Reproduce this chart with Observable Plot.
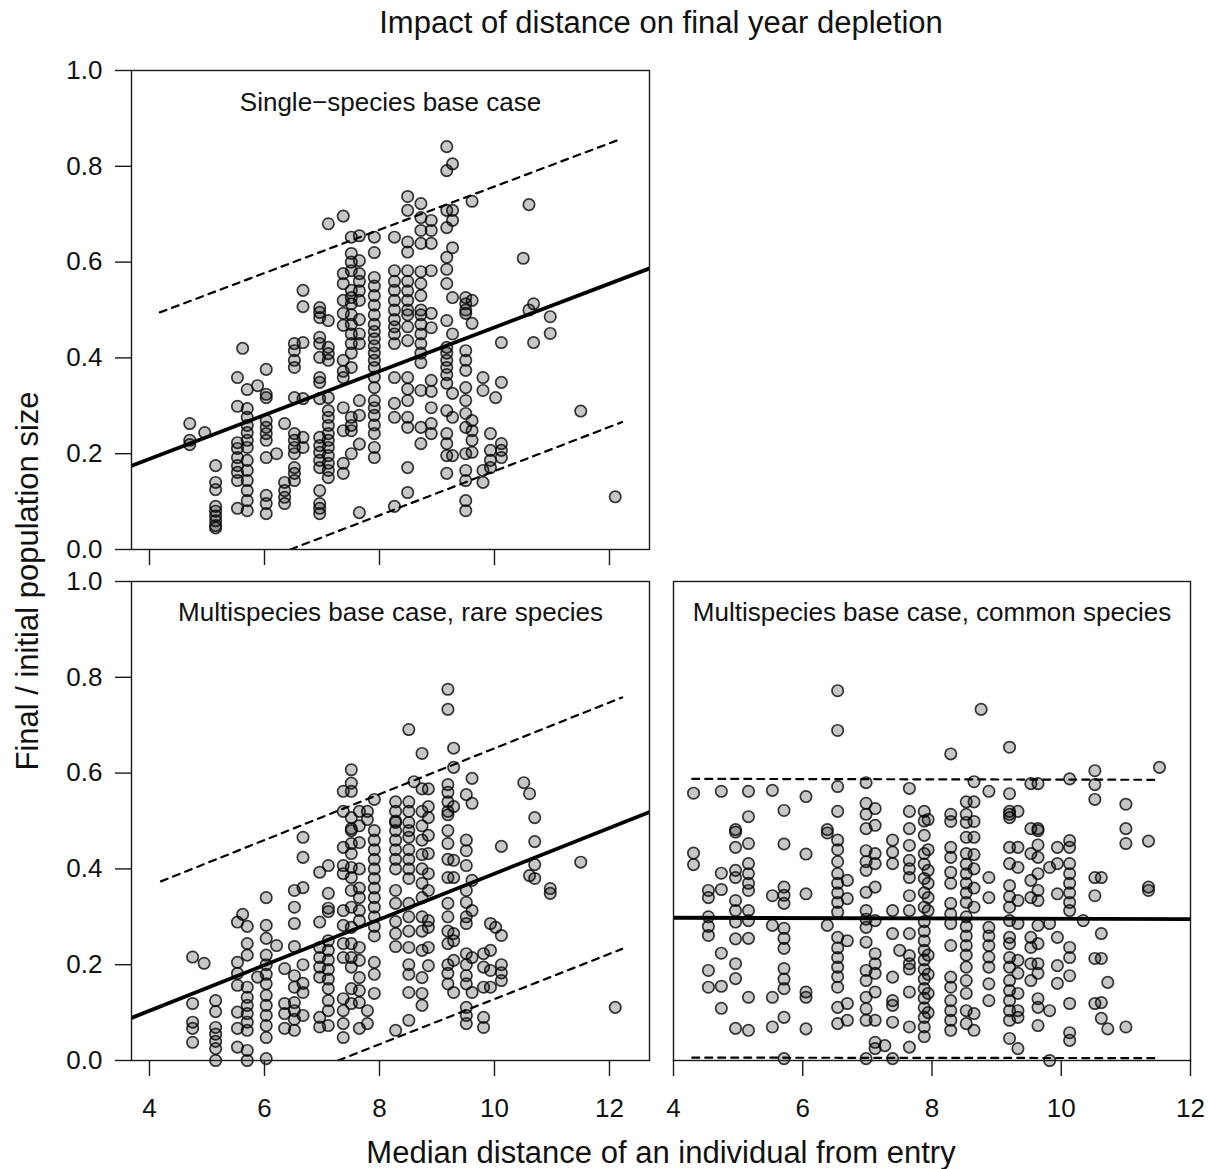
<!DOCTYPE html>
<html><head><meta charset="utf-8">
<script src="https://cdn.jsdelivr.net/npm/d3@7"></script>
<script src="https://cdn.jsdelivr.net/npm/@observablehq/plot@0.6"></script>
<style>
html,body{margin:0;padding:0;background:#fff;}
#chart{position:relative;width:1216px;height:1169px;font-family:"Liberation Sans",Arial,sans-serif;color:#111;overflow:hidden;}
#chart .lbl{position:absolute;white-space:nowrap;font-size:31px;line-height:1;}
#chart svg{position:absolute;left:0;top:0;}
</style></head><body>
<div id="chart">
  <div class="lbl" id="title" style="left:661px;top:22px;transform:translate(-50%,-50%);">Impact of distance on final year depletion</div>
  <div class="lbl" id="ylab" style="left:27px;top:581px;transform:translate(-50%,-50%) rotate(-90deg);">Final / initial population size</div>
  <div class="lbl" id="xlab" style="left:661px;top:1152px;transform:translate(-50%,-50%);">Median distance of an individual from entry</div>
</div>
<script>
// ---- data: each row = [median distance, final/initial values ...] ----
const singleSpecies = [
  [4.7, 0.263, 0.228, 0.219],
  [4.96, 0.244],
  [5.15, 0.175, 0.14, 0.125, 0.09, 0.08, 0.07, 0.06, 0.05, 0.045],
  [5.53, 0.359, 0.299, 0.223, 0.211, 0.192, 0.175, 0.161, 0.144, 0.086],
  [5.62, 0.42],
  [5.7, 0.334, 0.294, 0.276, 0.259, 0.244, 0.228, 0.213, 0.186, 0.165, 0.144, 0.123, 0.102, 0.081],
  [5.88, 0.342],
  [6.03, 0.376, 0.324, 0.317, 0.269, 0.255, 0.242, 0.228, 0.192, 0.113, 0.096, 0.075],
  [6.21, 0.2],
  [6.35, 0.263, 0.14, 0.123, 0.109, 0.096],
  [6.52, 0.43, 0.415, 0.395, 0.38, 0.317, 0.242, 0.228, 0.213, 0.2, 0.171, 0.159, 0.144],
  [6.67, 0.541, 0.507, 0.432, 0.315, 0.234, 0.213],
  [6.96, 0.505, 0.495, 0.484, 0.443, 0.43, 0.401, 0.359, 0.349, 0.315, 0.234, 0.217, 0.203, 0.186, 0.171, 0.123, 0.096, 0.086, 0.075],
  [7.11, 0.68, 0.478, 0.422, 0.409, 0.395, 0.317, 0.29, 0.276, 0.259, 0.242, 0.228, 0.213, 0.196, 0.18, 0.165, 0.15],
  [7.37, 0.696, 0.576, 0.555, 0.52, 0.493, 0.468, 0.395, 0.372, 0.359, 0.296, 0.248, 0.18, 0.159],
  [7.51, 0.652, 0.618, 0.6, 0.582, 0.541, 0.526, 0.513, 0.49, 0.47, 0.45, 0.43, 0.41, 0.38, 0.276, 0.259, 0.248, 0.2],
  [7.65, 0.655, 0.603, 0.576, 0.56, 0.54, 0.52, 0.48, 0.45, 0.43, 0.311, 0.28, 0.22, 0.077],
  [7.91, 0.652, 0.62, 0.568, 0.55, 0.53, 0.51, 0.49, 0.47, 0.455, 0.44, 0.425, 0.41, 0.395, 0.38, 0.36, 0.338, 0.311, 0.296, 0.28, 0.26, 0.242, 0.213, 0.192],
  [8.26, 0.652, 0.582, 0.56, 0.541, 0.52, 0.5, 0.48, 0.465, 0.45, 0.43, 0.359, 0.305, 0.276, 0.09],
  [8.49, 0.737, 0.708, 0.642, 0.621, 0.582, 0.56, 0.54, 0.52, 0.5, 0.49, 0.465, 0.436, 0.359, 0.335, 0.311, 0.276, 0.255, 0.171, 0.119],
  [8.72, 0.722, 0.693, 0.666, 0.639, 0.58, 0.555, 0.53, 0.5, 0.49, 0.47, 0.45, 0.43, 0.41, 0.39, 0.332, 0.255, 0.221],
  [8.9, 0.687, 0.666, 0.639, 0.582, 0.493, 0.463, 0.353, 0.33, 0.296, 0.263, 0.242],
  [9.17, 0.841, 0.791, 0.708, 0.672, 0.61, 0.585, 0.555, 0.478, 0.422, 0.41, 0.395, 0.38, 0.365, 0.347, 0.29, 0.242, 0.221, 0.196, 0.159],
  [9.27, 0.805, 0.708, 0.687, 0.63, 0.526, 0.45, 0.326, 0.276, 0.196],
  [9.5, 0.526, 0.513, 0.5, 0.493, 0.415, 0.395, 0.374, 0.338, 0.311, 0.284, 0.255, 0.2, 0.165, 0.144, 0.102, 0.081],
  [9.61, 0.727, 0.52, 0.472, 0.269, 0.248, 0.228, 0.203],
  [9.8, 0.359, 0.332, 0.165, 0.14],
  [9.93, 0.242, 0.207, 0.186, 0.171],
  [10.02, 0.317],
  [10.12, 0.432, 0.349, 0.221, 0.207, 0.192],
  [10.5, 0.608],
  [10.6, 0.72, 0.5],
  [10.68, 0.513, 0.432],
  [10.97, 0.486, 0.451],
  [11.5, 0.289],
  [12.1, 0.11]
];
const rareSpecies = [
  [4.75, 0.216, 0.119, 0.08, 0.067, 0.038],
  [4.95, 0.203],
  [5.15, 0.125, 0.102, 0.069, 0.055, 0.04, 0.025, 0.0],
  [5.53, 0.289, 0.205, 0.182, 0.157, 0.101, 0.067, 0.028],
  [5.62, 0.305],
  [5.7, 0.28, 0.244, 0.22, 0.153, 0.132, 0.115, 0.098, 0.08, 0.063, 0.021, 0.0],
  [5.88, 0.174],
  [6.03, 0.34, 0.282, 0.255, 0.22, 0.2, 0.18, 0.16, 0.136, 0.115, 0.094, 0.073, 0.048, 0.004],
  [6.21, 0.24],
  [6.35, 0.192, 0.119, 0.098, 0.067],
  [6.52, 0.355, 0.32, 0.286, 0.238, 0.177, 0.153, 0.121, 0.104, 0.086, 0.063],
  [6.67, 0.466, 0.424, 0.361, 0.2, 0.161, 0.142, 0.094],
  [6.96, 0.393, 0.289, 0.236, 0.215, 0.195, 0.174, 0.09, 0.07],
  [7.11, 0.407, 0.349, 0.318, 0.311, 0.25, 0.23, 0.21, 0.19, 0.17, 0.15, 0.125, 0.104, 0.073],
  [7.37, 0.562, 0.52, 0.445, 0.407, 0.39, 0.313, 0.282, 0.244, 0.215, 0.129, 0.104, 0.077, 0.048],
  [7.51, 0.607, 0.579, 0.562, 0.507, 0.484, 0.48, 0.453, 0.432, 0.403, 0.382, 0.355, 0.32, 0.278, 0.244, 0.215, 0.195, 0.15, 0.119],
  [7.65, 0.52, 0.49, 0.455, 0.4, 0.36, 0.34, 0.313, 0.292, 0.236, 0.209, 0.173, 0.146, 0.121, 0.067],
  [7.79, 0.52, 0.503, 0.104, 0.077],
  [7.91, 0.545, 0.48, 0.46, 0.44, 0.42, 0.4, 0.38, 0.36, 0.34, 0.32, 0.3, 0.28, 0.26, 0.205, 0.18, 0.14],
  [8.28, 0.54, 0.52, 0.5, 0.497, 0.48, 0.46, 0.44, 0.42, 0.4, 0.355, 0.328, 0.29, 0.265, 0.238, 0.063],
  [8.51, 0.691, 0.54, 0.52, 0.497, 0.48, 0.466, 0.44, 0.42, 0.4, 0.38, 0.328, 0.3, 0.27, 0.236, 0.2, 0.18, 0.142, 0.084],
  [8.6, 0.582],
  [8.74, 0.641, 0.567, 0.52, 0.49, 0.46, 0.43, 0.4, 0.37, 0.34, 0.3, 0.27, 0.23, 0.173, 0.14, 0.115],
  [8.85, 0.567, 0.53, 0.507, 0.47, 0.432, 0.39, 0.355, 0.292, 0.278, 0.236, 0.198],
  [9.19, 0.775, 0.733, 0.576, 0.56, 0.54, 0.52, 0.513, 0.48, 0.453, 0.42, 0.382, 0.328, 0.3, 0.27, 0.244, 0.2, 0.182, 0.16],
  [9.29, 0.652, 0.612, 0.53, 0.418, 0.382, 0.265, 0.25, 0.209, 0.142],
  [9.51, 0.555, 0.46, 0.438, 0.407, 0.355, 0.33, 0.3, 0.286, 0.223, 0.2, 0.177, 0.16, 0.111, 0.094, 0.077],
  [9.61, 0.589, 0.537, 0.376, 0.313, 0.215, 0.142],
  [9.81, 0.223, 0.195, 0.153, 0.09, 0.069],
  [9.93, 0.286, 0.23, 0.188, 0.153],
  [10.02, 0.278],
  [10.12, 0.447, 0.261, 0.2, 0.183, 0.167],
  [10.51, 0.58],
  [10.61, 0.557, 0.386],
  [10.7, 0.507, 0.457, 0.409, 0.38],
  [10.97, 0.359, 0.349],
  [11.5, 0.414],
  [12.1, 0.111]
];
const commonSpecies = [
  [4.31, 0.558, 0.433, 0.409],
  [4.54, 0.355, 0.34, 0.3, 0.28, 0.261, 0.188, 0.153],
  [4.74, 0.562, 0.391, 0.357, 0.224, 0.155, 0.109],
  [4.96, 0.482, 0.477, 0.445, 0.397, 0.382, 0.334, 0.313, 0.289, 0.254, 0.202, 0.171, 0.067],
  [5.16, 0.562, 0.509, 0.453, 0.411, 0.39, 0.37, 0.355, 0.313, 0.292, 0.255, 0.132, 0.063],
  [5.53, 0.564, 0.344, 0.282, 0.132, 0.07],
  [5.71, 0.522, 0.452, 0.362, 0.345, 0.328, 0.276, 0.255, 0.234, 0.192, 0.17, 0.15, 0.09, 0.004],
  [6.05, 0.551, 0.431, 0.348, 0.143, 0.132, 0.066],
  [6.38, 0.482, 0.475, 0.282],
  [6.54, 0.772, 0.689, 0.572, 0.52, 0.46, 0.44, 0.415, 0.39, 0.37, 0.35, 0.33, 0.31, 0.257, 0.235, 0.215, 0.195, 0.175, 0.153, 0.111, 0.077],
  [6.69, 0.376, 0.338, 0.25, 0.119, 0.084],
  [6.98, 0.58, 0.537, 0.514, 0.484, 0.438, 0.415, 0.397, 0.351, 0.313, 0.295, 0.278, 0.247, 0.188, 0.167, 0.132, 0.108, 0.084, 0.004],
  [7.12, 0.526, 0.491, 0.432, 0.411, 0.362, 0.292, 0.223, 0.202, 0.182, 0.143, 0.084, 0.038, 0.025],
  [7.27, 0.031],
  [7.39, 0.46, 0.435, 0.411, 0.313, 0.265, 0.174, 0.125, 0.115, 0.08, 0.004],
  [7.5, 0.23],
  [7.65, 0.568, 0.52, 0.484, 0.449, 0.418, 0.4, 0.382, 0.344, 0.313, 0.265, 0.219, 0.202, 0.191, 0.143, 0.07, 0.028],
  [7.88, 0.52, 0.5, 0.47, 0.432, 0.41, 0.38, 0.35, 0.32, 0.29, 0.27, 0.25, 0.23, 0.21, 0.19, 0.17, 0.15, 0.13, 0.11, 0.09, 0.07, 0.05],
  [7.94, 0.503, 0.44, 0.397, 0.37, 0.34, 0.313, 0.22, 0.18, 0.14, 0.1],
  [8.29, 0.64, 0.514, 0.499, 0.445, 0.424, 0.393, 0.37, 0.328, 0.306, 0.286, 0.24, 0.174, 0.153, 0.125, 0.104, 0.084, 0.063],
  [8.53, 0.54, 0.514, 0.497, 0.466, 0.432, 0.41, 0.39, 0.37, 0.35, 0.33, 0.3, 0.28, 0.26, 0.24, 0.22, 0.195, 0.167, 0.14, 0.104, 0.077],
  [8.65, 0.582, 0.54, 0.499, 0.466, 0.43, 0.4, 0.36, 0.32, 0.098, 0.063],
  [8.76, 0.733],
  [8.88, 0.562, 0.382, 0.34, 0.278, 0.26, 0.24, 0.216, 0.195, 0.16, 0.125],
  [9.2, 0.654, 0.557, 0.52, 0.514, 0.507, 0.445, 0.411, 0.365, 0.342, 0.32, 0.292, 0.257, 0.244, 0.215, 0.195, 0.167, 0.146, 0.125, 0.104, 0.084, 0.046],
  [9.33, 0.52, 0.445, 0.403, 0.334, 0.286, 0.209, 0.182, 0.14, 0.104, 0.09, 0.025],
  [9.53, 0.578, 0.484, 0.432, 0.376, 0.34, 0.257, 0.236, 0.202, 0.167],
  [9.64, 0.578, 0.484, 0.48, 0.45, 0.424, 0.39, 0.355, 0.334, 0.282, 0.244, 0.202, 0.182, 0.129, 0.111, 0.073],
  [9.82, 0.403, 0.286, 0.104, 0.0],
  [9.94, 0.445, 0.411, 0.348, 0.257, 0.198, 0.161],
  [10.13, 0.588, 0.459, 0.445, 0.411, 0.39, 0.37, 0.35, 0.33, 0.313, 0.236, 0.215, 0.177, 0.119, 0.058, 0.042],
  [10.34, 0.292],
  [10.52, 0.605, 0.576, 0.545, 0.382, 0.344, 0.213, 0.119],
  [10.62, 0.382, 0.265, 0.213, 0.121, 0.088],
  [10.72, 0.163, 0.066],
  [11.0, 0.535, 0.484, 0.453, 0.07],
  [11.35, 0.458, 0.362, 0.355],
  [11.52, 0.612]
];
// regression fit and interval lines: [distance, value] endpoints
const singleFit   = [[3.69, 0.175], [12.7, 0.587]];
const singleUpper = [[4.18, 0.495], [12.22, 0.858]];
const singleLower = [[6.45, 0.0], [12.22, 0.266]];
const rareFit     = [[3.69, 0.089], [12.7, 0.519]];
const rareUpper   = [[4.2, 0.374], [12.22, 0.758]];
const rareLower   = [[7.28, 0.0], [12.22, 0.233]];
const commonFit   = [[4.0, 0.298], [12.0, 0.295]];
const commonUpper = [[4.29, 0.588], [11.52, 0.586]];
const commonLower = [[4.29, 0.006], [11.52, 0.005]];

const xTicks = [4, 6, 8, 10, 12];
const yTicks = [0, 0.2, 0.4, 0.6, 0.8, 1.0];
const panelTitles = ["Single\u2212species base case", "Multispecies base case, rare species", "Multispecies base case, common species"];

const toPoints = cols => cols.flatMap(([x, ...ys]) => ys.map(y => ({x, y})));
const W = 1216, H = 1169;

function panel({cols, fit, upper, lower, xDomain, left, right, top, bottom, title, titleDy, xLabels, showY}) {
  const lineOpt = {x: d => d[0], y: d => d[1], stroke: "black", clip: true};
  const marks = [
    Plot.dot(toPoints(cols), {x: "x", y: "y", r: 5.7, fill: "black", fillOpacity: 0.22,
      stroke: "black", strokeOpacity: 0.78, strokeWidth: 1.7}),
    Plot.line(upper, {...lineOpt, strokeWidth: 2.2, strokeDasharray: "7,6"}),
    Plot.line(lower, {...lineOpt, strokeWidth: 2.2, strokeDasharray: "7,6"}),
    Plot.line(fit, {...lineOpt, strokeWidth: 3.8}),
    Plot.frame({stroke: "#1a1a1a", strokeWidth: 1.4}),
    Plot.text([title], {frameAnchor: "top", lineAnchor: "middle", dy: titleDy, fontSize: 26, fill: "#111"}),
    Plot.axisX({ticks: xTicks, tickSize: 16, tickPadding: 22, stroke: "#1a1a1a", strokeWidth: 1.4, label: null,
      tickFormat: xLabels ? (d => String(d)) : (() => ""), fontSize: 26, fill: "#111"})
  ];
  if (showY) marks.push(Plot.axisY({ticks: yTicks, tickSize: 16, tickPadding: 13, stroke: "#1a1a1a", strokeWidth: 1.4, label: null,
      tickFormat: d3.format(".1f"), fontSize: 26, fill: "#111"}));
  return Plot.plot({
    width: W, height: H,
    marginLeft: left, marginRight: W - right, marginTop: top, marginBottom: H - bottom,
    x: {domain: xDomain, label: null},
    y: {domain: [0, 1], label: null, axis: showY ? undefined : null},
    style: {background: "transparent", fontFamily: "'Liberation Sans', Arial, sans-serif", fontSize: "26px", color: "#111", overflow: "visible"},
    marks
  });
}

const chart = document.getElementById("chart");
chart.appendChild(panel({cols: singleSpecies, fit: singleFit, upper: singleUpper, lower: singleLower,
  xDomain: [3.687, 12.696], left: 131, right: 649, top: 70, bottom: 549, title: panelTitles[0], titleDy: 32, xLabels: false, showY: true}));
chart.appendChild(panel({cols: rareSpecies, fit: rareFit, upper: rareUpper, lower: rareLower,
  xDomain: [3.687, 12.696], left: 131, right: 649, top: 581, bottom: 1060, title: panelTitles[1], titleDy: 31, xLabels: true, showY: true}));
chart.appendChild(panel({cols: commonSpecies, fit: commonFit, upper: commonUpper, lower: commonLower,
  xDomain: [4, 12], left: 673, right: 1190, top: 581, bottom: 1060, title: panelTitles[2], titleDy: 31, xLabels: true, showY: false}));
</script>
</body></html>
